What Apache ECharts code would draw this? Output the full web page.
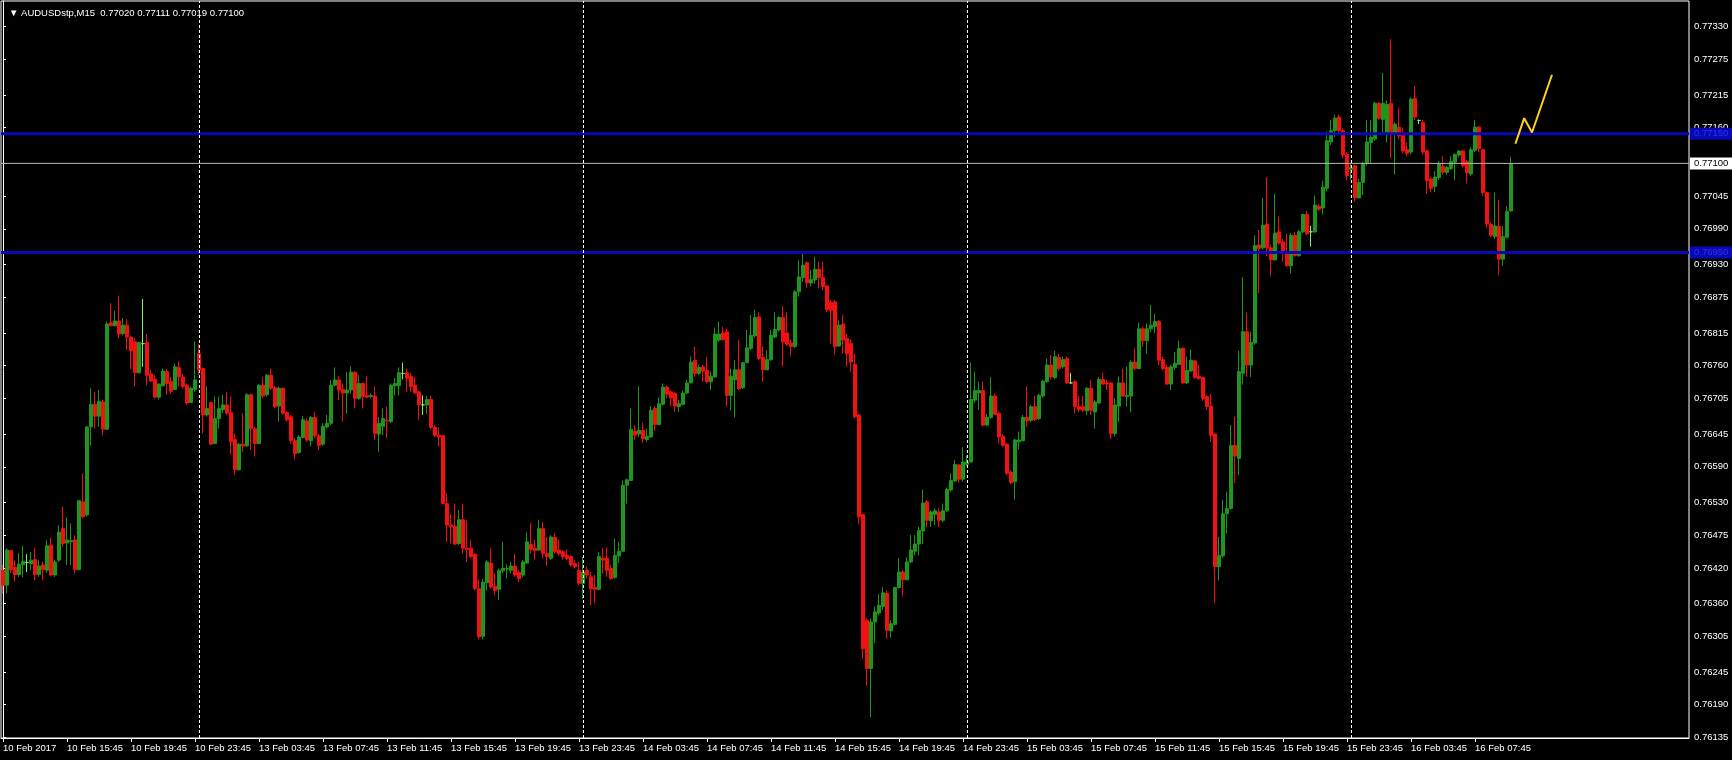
<!DOCTYPE html>
<html><head><meta charset="utf-8">
<script src="https://cdn.jsdelivr.net/npm/echarts@6/dist/echarts.min.js"></script>
<style>html,body{margin:0;padding:0;background:#000;}#c{width:1732px;height:760px;}</style>
</head><body><div id="c"></div>
<script>
const symbolName = 'AUDUSDstp,M15';
const timeLabels = ['10 Feb 2017','10 Feb 15:45','10 Feb 19:45','10 Feb 23:45','13 Feb 03:45','13 Feb 07:45','13 Feb 11:45','13 Feb 15:45','13 Feb 19:45','13 Feb 23:45','14 Feb 03:45','14 Feb 07:45','14 Feb 11:45','14 Feb 15:45','14 Feb 19:45','14 Feb 23:45','15 Feb 03:45','15 Feb 07:45','15 Feb 11:45','15 Feb 15:45','15 Feb 19:45','15 Feb 23:45','16 Feb 03:45','16 Feb 07:45'];
const priceTicks = [0.76135,0.76190,0.76245,0.76305,0.76360,0.76420,0.76475,0.76530,0.76590,0.76645,0.76705,0.76760,0.76815,0.76875,0.76930,0.76990,0.77045,0.77100,0.77160,0.77215,0.77275,0.77330];
const daySeparators = [49,145,241,337];
const resistanceLevel = 0.77150;
const supportLevel = 0.76950;
const projectionX = [378.1,380.3,382.25,387.25];
const projectionY = [0.77133,0.77176,0.77152,0.77249];

const open = [
0.76416,0.76391,0.76449,0.76421,0.76409,0.76425,0.76429,0.76427,0.76434,0.76409,
0.76425,0.76416,0.76458,0.76408,0.76433,0.76486,0.76462,0.76464,0.76467,0.76417,
0.76531,0.76509,0.76657,0.76695,0.76675,0.76699,0.76653,0.76832,0.76827,0.76835,
0.76814,0.76828,0.76808,0.76800,0.76748,0.76797,0.76799,0.76746,0.76737,0.76707,
0.76726,0.76750,0.76733,0.76720,0.76757,0.76741,0.76727,0.76698,0.76720,0.76780,
0.76755,0.76677,0.76698,0.76629,0.76671,0.76686,0.76694,0.76681,0.76636,0.76585,
0.76628,0.76625,0.76711,0.76654,0.76629,0.76727,0.76711,0.76744,0.76723,0.76692,
0.76722,0.76681,0.76674,0.76634,0.76614,0.76639,0.76667,0.76634,0.76673,0.76642,
0.76628,0.76657,0.76663,0.76727,0.76736,0.76720,0.76714,0.76719,0.76749,0.76705,
0.76730,0.76710,0.76708,0.76709,0.76645,0.76658,0.76668,0.76666,0.76726,0.76726,
0.76747,0.76748,0.76742,0.76727,0.76716,0.76694,0.76694,0.76703,0.76656,0.76643,
0.76642,0.76528,0.76492,0.76490,0.76461,0.76501,0.76453,0.76453,0.76443,0.76385,
0.76305,0.76395,0.76428,0.76389,0.76384,0.76415,0.76418,0.76416,0.76423,0.76412,
0.76408,0.76428,0.76460,0.76453,0.76450,0.76486,0.76444,0.76436,0.76471,0.76450,
0.76447,0.76441,0.76439,0.76427,0.76416,0.76394,0.76416,0.76405,0.76387,0.76384,
0.76436,0.76436,0.76419,0.76404,0.76440,0.76448,0.76559,0.76567,0.76650,0.76645,
0.76651,0.76636,0.76640,0.76688,0.76661,0.76695,0.76724,0.76716,0.76713,0.76691,
0.76695,0.76714,0.76731,0.76769,0.76747,0.76758,0.76752,0.76733,0.76741,0.76803,
0.76815,0.76817,0.76710,0.76736,0.76753,0.76723,0.76765,0.76789,0.76810,0.76842,
0.76774,0.76753,0.76770,0.76808,0.76820,0.76841,0.76815,0.76798,0.76792,0.76884,
0.76908,0.76933,0.76899,0.76904,0.76922,0.76908,0.76894,0.76866,0.76867,0.76793,
0.76830,0.76806,0.76797,0.76762,0.76677,0.76510,0.76332,0.76251,0.76329,0.76344,
0.76355,0.76377,0.76314,0.76325,0.76387,0.76413,0.76400,0.76430,0.76448,0.76460,
0.76482,0.76531,0.76499,0.76510,0.76514,0.76500,0.76516,0.76551,0.76566,0.76593,
0.76569,0.76594,0.76598,0.76702,0.76714,0.76718,0.76660,0.76673,0.76709,0.76680,
0.76641,0.76628,0.76581,0.76565,0.76632,0.76634,0.76673,0.76668,0.76691,0.76671,
0.76709,0.76733,0.76761,0.76740,0.76774,0.76758,0.76772,0.76731,0.76733,0.76691,
0.76691,0.76684,0.76722,0.76682,0.76697,0.76737,0.76731,0.76731,0.76646,0.76692,
0.76731,0.76708,0.76709,0.76766,0.76755,0.76822,0.76802,0.76822,0.76826,0.76834,
0.76770,0.76757,0.76729,0.76757,0.76762,0.76789,0.76731,0.76751,0.76768,0.76742,
0.76740,0.76708,0.76692,0.76645,0.76422,0.76440,0.76511,0.76520,0.76626,0.76604,
0.76747,0.76817,0.76761,0.76798,0.76963,0.76958,0.76998,0.76958,0.76938,0.76985,
0.76968,0.76952,0.76928,0.76979,0.76945,0.76985,0.77014,0.76985,0.76985,0.77028,
0.77025,0.77058,0.77136,0.77155,0.77178,0.77155,0.77115,0.77090,0.77096,0.77042,
0.77068,0.77100,0.77135,0.77141,0.77201,0.77174,0.77152,0.77201,0.77150,0.77161,
0.77147,0.77123,0.77119,0.77209,0.77172,0.77169,0.77121,0.77074,0.77061,0.77076,
0.77095,0.77085,0.77091,0.77102,0.77114,0.77121,0.77103,0.77082,0.77122,0.77161,
0.77123,0.77051,0.76998,0.76977,0.76994,0.76939,0.76976,0.77020];

const high = [
0.76425,0.76453,0.76450,0.76433,0.76445,0.76457,0.76443,0.76447,0.76454,0.76433,
0.76430,0.76466,0.76471,0.76434,0.76492,0.76523,0.76505,0.76495,0.76475,0.76534,
0.76579,0.76658,0.76722,0.76716,0.76719,0.76703,0.76834,0.76865,0.76852,0.76877,
0.76840,0.76838,0.76811,0.76806,0.76799,0.76872,0.76813,0.76753,0.76744,0.76730,
0.76755,0.76754,0.76741,0.76763,0.76767,0.76746,0.76730,0.76725,0.76801,0.76796,
0.76757,0.76726,0.76699,0.76708,0.76708,0.76711,0.76716,0.76708,0.76646,0.76630,
0.76680,0.76714,0.76713,0.76657,0.76729,0.76741,0.76746,0.76755,0.76726,0.76725,
0.76723,0.76683,0.76677,0.76638,0.76643,0.76675,0.76671,0.76675,0.76682,0.76645,
0.76663,0.76677,0.76736,0.76757,0.76742,0.76730,0.76749,0.76759,0.76750,0.76744,
0.76731,0.76742,0.76713,0.76725,0.76674,0.76688,0.76691,0.76730,0.76739,0.76757,
0.76765,0.76755,0.76748,0.76741,0.76718,0.76710,0.76709,0.76709,0.76660,0.76656,
0.76643,0.76545,0.76510,0.76528,0.76517,0.76528,0.76500,0.76467,0.76444,0.76400,
0.76402,0.76433,0.76453,0.76411,0.76419,0.76464,0.76426,0.76430,0.76444,0.76416,
0.76433,0.76479,0.76495,0.76467,0.76501,0.76497,0.76472,0.76475,0.76478,0.76467,
0.76450,0.76451,0.76441,0.76433,0.76430,0.76439,0.76422,0.76413,0.76408,0.76447,
0.76453,0.76455,0.76425,0.76469,0.76464,0.76567,0.76570,0.76688,0.76660,0.76725,
0.76664,0.76654,0.76692,0.76692,0.76707,0.76730,0.76727,0.76719,0.76716,0.76702,
0.76718,0.76736,0.76775,0.76792,0.76762,0.76761,0.76775,0.76750,0.76824,0.76834,
0.76825,0.76822,0.76755,0.76769,0.76803,0.76766,0.76820,0.76845,0.76854,0.76850,
0.76792,0.76786,0.76820,0.76850,0.76843,0.76860,0.76850,0.76803,0.76887,0.76937,
0.76950,0.76935,0.76921,0.76943,0.76935,0.76935,0.76895,0.76870,0.76870,0.76836,
0.76845,0.76813,0.76804,0.76780,0.76679,0.76511,0.76335,0.76335,0.76355,0.76376,
0.76388,0.76382,0.76332,0.76388,0.76436,0.76416,0.76438,0.76475,0.76475,0.76489,
0.76552,0.76534,0.76517,0.76520,0.76520,0.76528,0.76555,0.76579,0.76601,0.76595,
0.76623,0.76609,0.76765,0.76750,0.76733,0.76733,0.76679,0.76741,0.76713,0.76682,
0.76645,0.76630,0.76584,0.76637,0.76649,0.76677,0.76725,0.76694,0.76709,0.76713,
0.76736,0.76772,0.76778,0.76785,0.76780,0.76775,0.76775,0.76748,0.76736,0.76709,
0.76709,0.76724,0.76736,0.76702,0.76741,0.76748,0.76736,0.76733,0.76705,0.76742,
0.76755,0.76758,0.76769,0.76789,0.76832,0.76825,0.76831,0.76862,0.76847,0.76837,
0.76775,0.76761,0.76761,0.76783,0.76802,0.76791,0.76775,0.76787,0.76770,0.76761,
0.76741,0.76710,0.76713,0.76646,0.76472,0.76534,0.76548,0.76660,0.76674,0.76785,
0.76909,0.76849,0.76817,0.76979,0.76988,0.77042,0.77077,0.76964,0.77049,0.77011,
0.76973,0.76982,0.76983,0.76985,0.76988,0.77015,0.77020,0.76995,0.77046,0.77032,
0.77071,0.77154,0.77173,0.77182,0.77182,0.77159,0.77119,0.77100,0.77098,0.77074,
0.77103,0.77173,0.77173,0.77204,0.77203,0.77252,0.77206,0.77309,0.77169,0.77193,
0.77160,0.77135,0.77211,0.77230,0.77174,0.77173,0.77123,0.77077,0.77087,0.77104,
0.77112,0.77096,0.77112,0.77117,0.77122,0.77123,0.77106,0.77127,0.77173,0.77163,
0.77125,0.77053,0.77001,0.77051,0.77039,0.76995,0.77028,0.77111];

const low = [
0.76377,0.76377,0.76411,0.76397,0.76405,0.76404,0.76413,0.76416,0.76399,0.76405,
0.76399,0.76412,0.76406,0.76405,0.76430,0.76455,0.76425,0.76425,0.76411,0.76416,
0.76503,0.76506,0.76626,0.76654,0.76657,0.76643,0.76652,0.76826,0.76826,0.76806,
0.76811,0.76786,0.76754,0.76725,0.76747,0.76758,0.76727,0.76733,0.76705,0.76703,
0.76725,0.76711,0.76713,0.76719,0.76725,0.76722,0.76694,0.76697,0.76716,0.76744,
0.76646,0.76674,0.76626,0.76628,0.76654,0.76680,0.76677,0.76610,0.76576,0.76583,
0.76615,0.76624,0.76618,0.76607,0.76628,0.76705,0.76708,0.76719,0.76688,0.76666,
0.76677,0.76666,0.76629,0.76602,0.76612,0.76638,0.76632,0.76624,0.76638,0.76618,
0.76625,0.76654,0.76660,0.76725,0.76702,0.76666,0.76680,0.76713,0.76688,0.76703,
0.76688,0.76705,0.76705,0.76635,0.76615,0.76643,0.76638,0.76663,0.76710,0.76710,
0.76737,0.76716,0.76716,0.76713,0.76668,0.76677,0.76679,0.76653,0.76640,0.76624,
0.76527,0.76464,0.76461,0.76458,0.76458,0.76444,0.76430,0.76436,0.76382,0.76300,
0.76300,0.76382,0.76385,0.76374,0.76366,0.76411,0.76402,0.76411,0.76405,0.76396,
0.76405,0.76427,0.76444,0.76434,0.76449,0.76436,0.76423,0.76433,0.76444,0.76441,
0.76434,0.76433,0.76422,0.76419,0.76391,0.76368,0.76402,0.76357,0.76360,0.76382,
0.76411,0.76405,0.76400,0.76402,0.76428,0.76447,0.76528,0.76566,0.76635,0.76640,
0.76630,0.76632,0.76639,0.76650,0.76660,0.76693,0.76705,0.76692,0.76682,0.76682,
0.76693,0.76712,0.76730,0.76741,0.76744,0.76733,0.76730,0.76719,0.76740,0.76800,
0.76802,0.76691,0.76684,0.76673,0.76719,0.76721,0.76764,0.76786,0.76807,0.76769,
0.76733,0.76752,0.76768,0.76806,0.76817,0.76758,0.76793,0.76776,0.76790,0.76876,
0.76901,0.76891,0.76893,0.76898,0.76890,0.76887,0.76850,0.76797,0.76778,0.76792,
0.76780,0.76758,0.76750,0.76671,0.76494,0.76267,0.76222,0.76169,0.76293,0.76340,
0.76349,0.76301,0.76303,0.76323,0.76385,0.76372,0.76399,0.76428,0.76441,0.76441,
0.76460,0.76488,0.76489,0.76492,0.76489,0.76497,0.76514,0.76548,0.76565,0.76563,
0.76565,0.76591,0.76597,0.76697,0.76685,0.76658,0.76658,0.76671,0.76677,0.76629,
0.76623,0.76576,0.76561,0.76535,0.76619,0.76632,0.76657,0.76665,0.76667,0.76668,
0.76706,0.76731,0.76737,0.76737,0.76752,0.76755,0.76729,0.76729,0.76680,0.76682,
0.76682,0.76677,0.76677,0.76654,0.76696,0.76727,0.76719,0.76637,0.76641,0.76665,
0.76708,0.76691,0.76682,0.76752,0.76754,0.76792,0.76780,0.76817,0.76814,0.76761,
0.76752,0.76727,0.76719,0.76753,0.76761,0.76729,0.76729,0.76750,0.76738,0.76737,
0.76701,0.76686,0.76632,0.76360,0.76399,0.76437,0.76478,0.76518,0.76562,0.76576,
0.76728,0.76741,0.76741,0.76795,0.76882,0.76955,0.76944,0.76911,0.76936,0.76963,
0.76935,0.76926,0.76915,0.76943,0.76943,0.76983,0.76979,0.76960,0.76983,0.77020,
0.77014,0.77053,0.77131,0.77144,0.77150,0.77109,0.77071,0.77072,0.77036,0.77041,
0.77047,0.77096,0.77100,0.77138,0.77173,0.77150,0.77135,0.77109,0.77081,0.77141,
0.77117,0.77112,0.77115,0.77173,0.77166,0.77115,0.77049,0.77052,0.77052,0.77072,
0.77081,0.77081,0.77089,0.77072,0.77110,0.77093,0.77066,0.77079,0.77119,0.77119,
0.77046,0.76992,0.76976,0.76973,0.76912,0.76928,0.76973,0.77019];

const close = [
0.76391,0.76450,0.76417,0.76409,0.76426,0.76431,0.76429,0.76433,0.76409,0.76423,
0.76417,0.76457,0.76408,0.76430,0.76480,0.76461,0.76467,0.76466,0.76417,0.76533,
0.76506,0.76657,0.76695,0.76675,0.76700,0.76653,0.76830,0.76827,0.76835,0.76813,
0.76828,0.76808,0.76785,0.76748,0.76799,0.76797,0.76744,0.76734,0.76707,0.76729,
0.76751,0.76730,0.76717,0.76758,0.76741,0.76725,0.76697,0.76722,0.76736,0.76753,
0.76677,0.76688,0.76628,0.76671,0.76688,0.76694,0.76680,0.76632,0.76585,0.76628,
0.76625,0.76711,0.76654,0.76629,0.76727,0.76709,0.76744,0.76722,0.76691,0.76722,
0.76680,0.76669,0.76634,0.76612,0.76640,0.76669,0.76635,0.76673,0.76642,0.76626,
0.76658,0.76663,0.76727,0.76736,0.76719,0.76714,0.76719,0.76749,0.76705,0.76730,
0.76708,0.76707,0.76710,0.76646,0.76663,0.76671,0.76667,0.76727,0.76730,0.76748,
0.76747,0.76739,0.76725,0.76714,0.76694,0.76694,0.76703,0.76656,0.76642,0.76640,
0.76528,0.76492,0.76489,0.76460,0.76501,0.76453,0.76451,0.76439,0.76385,0.76304,
0.76396,0.76430,0.76388,0.76382,0.76416,0.76419,0.76419,0.76423,0.76408,0.76402,
0.76430,0.76464,0.76451,0.76449,0.76486,0.76444,0.76439,0.76472,0.76447,0.76444,
0.76439,0.76436,0.76425,0.76422,0.76394,0.76413,0.76408,0.76385,0.76384,0.76439,
0.76433,0.76416,0.76402,0.76441,0.76448,0.76559,0.76568,0.76653,0.76643,0.76651,
0.76637,0.76641,0.76685,0.76661,0.76696,0.76724,0.76712,0.76706,0.76692,0.76696,
0.76714,0.76731,0.76766,0.76747,0.76757,0.76751,0.76733,0.76742,0.76813,0.76813,
0.76804,0.76710,0.76742,0.76753,0.76721,0.76765,0.76790,0.76811,0.76841,0.76772,
0.76753,0.76770,0.76811,0.76821,0.76841,0.76800,0.76796,0.76792,0.76884,0.76909,
0.76929,0.76899,0.76905,0.76922,0.76908,0.76893,0.76854,0.76853,0.76792,0.76828,
0.76803,0.76780,0.76766,0.76674,0.76506,0.76284,0.76251,0.76329,0.76346,0.76357,
0.76378,0.76315,0.76326,0.76387,0.76413,0.76400,0.76430,0.76450,0.76460,0.76483,
0.76529,0.76500,0.76514,0.76516,0.76500,0.76516,0.76552,0.76567,0.76594,0.76569,
0.76598,0.76598,0.76703,0.76718,0.76718,0.76660,0.76673,0.76709,0.76678,0.76640,
0.76626,0.76579,0.76563,0.76635,0.76635,0.76673,0.76667,0.76691,0.76669,0.76710,
0.76734,0.76761,0.76741,0.76775,0.76755,0.76770,0.76731,0.76731,0.76691,0.76686,
0.76685,0.76722,0.76685,0.76699,0.76737,0.76729,0.76729,0.76646,0.76694,0.76731,
0.76709,0.76710,0.76766,0.76755,0.76822,0.76802,0.76822,0.76828,0.76834,0.76769,
0.76755,0.76729,0.76758,0.76764,0.76789,0.76731,0.76752,0.76769,0.76740,0.76738,
0.76705,0.76691,0.76643,0.76422,0.76441,0.76511,0.76520,0.76626,0.76608,0.76750,
0.76817,0.76761,0.76799,0.76962,0.76957,0.76996,0.76958,0.76938,0.76983,0.76966,
0.76950,0.76928,0.76979,0.76945,0.76985,0.77014,0.76982,0.76985,0.77030,0.77023,
0.77060,0.77138,0.77155,0.77176,0.77155,0.77114,0.77079,0.77093,0.77042,0.77068,
0.77100,0.77136,0.77144,0.77201,0.77176,0.77201,0.77199,0.77150,0.77166,0.77146,
0.77121,0.77117,0.77208,0.77178,0.77172,0.77119,0.77071,0.77058,0.77077,0.77100,
0.77085,0.77093,0.77103,0.77115,0.77121,0.77096,0.77084,0.77123,0.77161,0.77125,
0.77051,0.76998,0.76979,0.76995,0.76939,0.76977,0.77019,0.77100];

const TOTAL_SLOTS = 422;   // bar slots across the chart width (includes the empty right margin)
const LABEL_STEP = 16;     // one time label every 16 bars (4 hours of M15)

const FONT = '"Liberation Sans", Arial, sans-serif';
const categories = Array.from({length: TOTAL_SLOTS}, (_, i) => String(i));
const candleData = open.map((o, i) => [o, close[i], low[i], high[i]]);
const last = open.length - 1;
const bidPrice = close[last];
const titleText = '\u25BC ' + symbolName + '  ' + [open[last], high[last], low[last], close[last]].map(v => v.toFixed(5)).join(' ');
const showLabel = idx => idx % LABEL_STEP === 0 && idx / LABEL_STEP < timeLabels.length;

const chart = echarts.init(document.getElementById('c'), null, {renderer: 'canvas'});

function levelSeries(value, color, width, bg, fg, z) {
  return {
    type: 'line',
    xAxisIndex: 1,
    data: [[-0.5, value], [TOTAL_SLOTS - 0.5, value]],
    symbol: 'none',
    silent: true,
    clip: false,
    z: z,
    lineStyle: {color: color, width: width, type: 'solid'},
    endLabel: {
      show: true, distance: 1,
      formatter: () => value.toFixed(5),
      backgroundColor: bg, color: fg,
      fontFamily: FONT, fontSize: 9.5,
      padding: [1, 5, 1, 4]
    }
  };
}

chart.setOption({
  backgroundColor: '#000000',
  animation: false,
  title: {
    text: titleText, left: 4, top: 3,
    textStyle: {color: '#FFFFFF', fontSize: 9.5, fontWeight: 'normal', fontFamily: FONT}
  },
  grid: {
    left: 1, top: 1, width: 1688, height: 737,
    show: true, borderColor: '#FFFFFF', borderWidth: 1, backgroundColor: '#000000'
  },
  xAxis: [{
    type: 'category',
    data: categories,
    boundaryGap: true,
    axisLine: {show: true, lineStyle: {color: '#FFFFFF', width: 1}},
    axisTick: {show: true, alignWithLabel: true, interval: showLabel, length: 4, lineStyle: {color: '#FFFFFF'}},
    axisLabel: {
      show: true, interval: showLabel, align: 'left', margin: 5,
      color: '#FFFFFF', fontSize: 9.5, fontFamily: FONT,
      formatter: (val, idx) => timeLabels[Math.round(Number(val) / LABEL_STEP)] || ''
    },
    splitLine: {show: false}
  }, {
    type: 'value', show: false, min: -0.5, max: TOTAL_SLOTS - 0.5
  }],
  yAxis: {
    type: 'value', position: 'right', scale: true,
    min: 0.76134, max: 0.77373,
    axisLine: {show: true, lineStyle: {color: '#FFFFFF'}},
    axisTick: {show: true, customValues: priceTicks, length: 3, lineStyle: {color: '#FFFFFF'}},
    axisLabel: {
      show: true, customValues: priceTicks, margin: 5,
      color: '#FFFFFF', fontSize: 9.5, fontFamily: FONT,
      formatter: v => Number(v).toFixed(5)
    },
    splitLine: {show: false}
  },
  series: [{
    type: 'candlestick',
    xAxisIndex: 0,
    data: candleData,
    barWidth: 3,
    z: 2,
    itemStyle: {
      color: '#1E961E', color0: '#F21010',
      borderColor: '#1E961E', borderColor0: '#F21010',
      borderColorDoji: '#7CF27C', borderWidth: 1
    },
    markLine: {
      silent: true, symbol: ['none', 'none'], animation: false,
      label: {show: false},
      data: daySeparators.map(d => ({
        xAxis: d,
        lineStyle: {color: '#FFFFFF', width: 1, type: [3, 2]}
      }))
    }
  },
  levelSeries(bidPrice, '#B8B8B8', 1, '#FFFFFF', '#000000', 3),
  levelSeries(resistanceLevel, '#0808B4', 3, '#0808B4', '#3030F0', 4),
  levelSeries(supportLevel, '#0808B4', 3, '#0808B4', '#3030F0', 4),
  {
    type: 'line',
    xAxisIndex: 1,
    data: projectionX.map((x, i) => [x, projectionY[i]]),
    symbol: 'none',
    silent: true,
    z: 5,
    lineStyle: {color: '#FFD21E', width: 2}
  }]
});
</script>
</body></html>
